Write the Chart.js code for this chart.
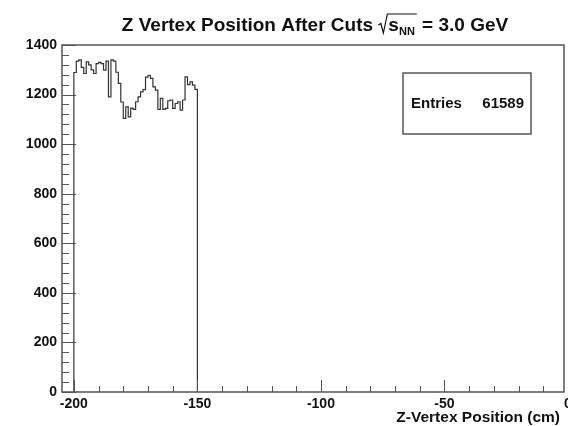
<!DOCTYPE html>
<html>
<head>
<meta charset="utf-8">
<script src="https://cdn.jsdelivr.net/npm/chart.js@4.4.1/dist/chart.umd.min.js"></script>
<style>
  html, body { margin: 0; padding: 0; background: #fff; }
  #wrap { width: 568px; height: 426px; }
</style>
</head>
<body>
<div id="wrap"><canvas id="myChart" width="568" height="426"></canvas></div>
<script>
// histogram: 1 cm bins starting at -200 cm
const binLow = -200;
const binWidth = 1;
const counts = [
    1289, 1335, 1340, 1310, 1285, 1332, 1320, 1300, 1285, 1325,
    1330, 1325, 1299, 1335, 1191, 1340, 1335, 1290, 1245, 1170,
    1104, 1150, 1110, 1145, 1140, 1171, 1191, 1211, 1220, 1270,
    1278, 1265, 1231, 1218, 1140, 1185, 1140, 1144, 1175, 1178,
    1144, 1164, 1171, 1137, 1178, 1271, 1240, 1251, 1238, 1221
];
const entries = 61589;

const xTickValues = [-200, -150, -100, -50, 0];
const yTickValues = [0, 200, 400, 600, 800, 1000, 1200, 1400];

const FONT = "'Liberation Sans', Arial, Helvetica, sans-serif";
const LINE = '#555';

// step outline points: start at zero, one point per bin high edge, drop to zero at the end
var points = [{ x: binLow, y: 0 }];
for (var i = 0; i < counts.length; i++) {
    points.push({ x: binLow + (i + 1) * binWidth, y: counts[i] });
}
points.push({ x: binLow + counts.length * binWidth, y: 0 });

var rootStyle = {
    id: 'rootStyle',
    afterDraw: function (chart) {
        var ctx = chart.ctx;
        var area = chart.chartArea;
        var xs = chart.scales.x, ys = chart.scales.y;
        ctx.save();

        // frame (the right edge sits a few px inside the canvas)
        ctx.strokeStyle = LINE;
        ctx.lineWidth = 1.5;
        ctx.strokeRect(area.left, area.top, 564 - area.left, area.bottom - area.top);

        // inside ticks
        ctx.lineWidth = 1;
        ctx.beginPath();
        for (var v = 0; v <= 1400; v += 40) {
            var py = Math.round(ys.getPixelForValue(v)) + 0.5;
            var len = v % 200 === 0 ? 14 : 7;
            ctx.moveTo(area.left, py);
            ctx.lineTo(area.left + len, py);
        }
        for (var u = -200; u < 0; u += 10) {
            var px = Math.round(xs.getPixelForValue(u)) + 0.5;
            var l = u % 50 === 0 ? 12 : 6;
            ctx.moveTo(px, area.bottom);
            ctx.lineTo(px, area.bottom - l);
        }
        ctx.stroke();

        // title with sqrt(s_NN)
        ctx.fillStyle = '#111';
        ctx.textBaseline = 'alphabetic';
        ctx.textAlign = 'left';
        var big = 'bold 19px ' + FONT, sub = 'bold 11px ' + FONT;
        var t1 = 'Z Vertex Position After Cuts ', t2 = 's', t3 = 'NN', t4 = ' = 3.0 GeV';
        ctx.font = big;
        var w1 = ctx.measureText(t1).width, w2 = ctx.measureText(t2).width, w4 = ctx.measureText(t4).width;
        ctx.font = sub;
        var w3 = ctx.measureText(t3).width;
        var radW = 10;
        var total = w1 + radW + w2 + w3 + 2 + w4;
        var x0 = 315 - total / 2, by = 31;
        ctx.font = big;
        ctx.fillText(t1, x0, by);
        var rx = x0 + w1;
        ctx.strokeStyle = '#111';
        ctx.lineWidth = 1.2;
        ctx.beginPath();
        ctx.moveTo(rx, by - 6);
        ctx.lineTo(rx + 2.5, by - 7.5);
        ctx.lineTo(rx + 5, by + 2);
        ctx.lineTo(rx + 9, by - 17);
        ctx.lineTo(rx + radW + w2 + w3 + 2, by - 17);
        ctx.stroke();
        ctx.fillText(t2, rx + radW, by);
        ctx.font = sub;
        ctx.fillText(t3, rx + radW + w2, by + 4);
        ctx.font = big;
        ctx.fillText(t4, rx + radW + w2 + w3 + 2, by);

        // stats box
        ctx.strokeStyle = LINE;
        ctx.lineWidth = 1.5;
        ctx.fillStyle = '#fff';
        ctx.fillRect(403, 73, 128, 61);
        ctx.strokeRect(403, 73, 128, 61);
        ctx.fillStyle = '#111';
        ctx.font = 'bold 15px ' + FONT;
        ctx.textAlign = 'left';
        ctx.fillText('Entries', 411, 108);
        ctx.textAlign = 'right';
        ctx.fillText(String(entries), 524, 108);

        // x axis title
        ctx.font = 'bold 15.5px ' + FONT;
        ctx.textAlign = 'right';
        ctx.fillText('Z-Vertex Position (cm)', 560, 422);
        ctx.restore();
    }
};

var ctx = document.getElementById('myChart').getContext('2d');
var myChart = new Chart(ctx, {
    type: 'line',
    data: {
        datasets: [{
            data: points,
            // Chart.js 'after' draws vertical first, so each point sits on its bin's high edge
            stepped: 'after',
            borderColor: '#333',
            borderWidth: 1.2,
            pointRadius: 0,
            fill: false
        }]
    },
    options: {
        responsive: false,
        animation: false,
        layout: { padding: { top: 45, right: 0, left: 0, bottom: 0 } },
        plugins: { legend: { display: false }, tooltip: { enabled: false } },
        scales: {
            x: {
                type: 'linear',
                min: -204.8,
                max: 0,
                grid: { display: false, drawTicks: false },
                border: { display: false },
                afterBuildTicks: function (scale) {
                    scale.ticks = xTickValues.map(function (v) { return { value: v }; });
                },
                afterFit: function (scale) {
                    scale.height = 34;
                    scale.paddingLeft = 0;
                    scale.paddingRight = 0;
                },
                ticks: {
                    color: '#111',
                    padding: 4,
                    maxRotation: 0,
                    autoSkip: false,
                    callback: function (v) { return String(v); },
                    font: { family: FONT, size: 14, weight: 'bold' }
                }
            },
            y: {
                min: 0,
                max: 1400,
                grid: { display: false, drawTicks: false },
                border: { display: false },
                afterBuildTicks: function (scale) {
                    scale.ticks = yTickValues.map(function (v) { return { value: v }; });
                },
                afterFit: function (scale) {
                    scale.width = 62;
                    scale.paddingTop = 0;
                    scale.paddingBottom = 0;
                },
                ticks: {
                    color: '#111',
                    padding: 5,
                    autoSkip: false,
                    callback: function (v) { return String(v); },
                    font: { family: FONT, size: 14, weight: 'bold' }
                }
            }
        }
    },
    plugins: [rootStyle]
});
</script>
</body>
</html>
